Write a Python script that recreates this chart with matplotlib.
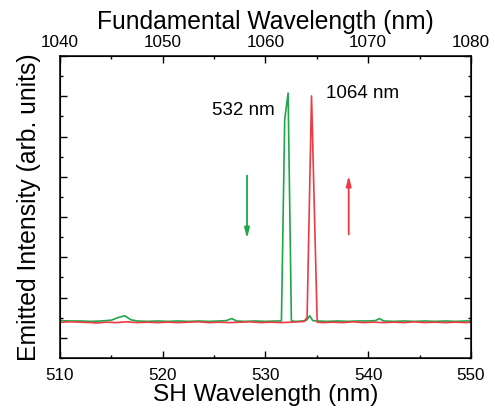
import numpy as np
import matplotlib.pyplot as plt
from matplotlib.ticker import MultipleLocator, NullFormatter

plt.rcParams['font.family'] = ['Liberation Sans', 'DejaVu Sans']

# green spectrum (532 nm, SH signal)
green_x = [510, 511, 512, 513, 514, 515, 515.6, 516.3, 516.9, 517.5, 518.5, 519.5,
           520.5, 521.5, 522.5, 523.5, 524.5, 525.5, 526.2, 526.7, 527.2, 528, 529,
           530, 531, 531.55, 531.87, 532.2, 532.52, 533, 533.6, 534.0, 534.3, 534.6,
           535, 536, 537, 538, 539, 540, 540.7, 541.1, 541.5, 542.5, 543.5, 544.5,
           545.5, 546.5, 547.5, 548.5, 549.5, 550]
green_y = [0.43, 0.42, 0.42, 0.41, 0.42, 0.44, 0.50, 0.55, 0.45, 0.42, 0.41, 0.42,
           0.41, 0.42, 0.41, 0.42, 0.41, 0.42, 0.43, 0.48, 0.42, 0.41, 0.42,
           0.41, 0.42, 0.42, 5.42, 6.08, 0.42, 0.41, 0.42, 0.44, 0.55, 0.43,
           0.42, 0.41, 0.42, 0.41, 0.42, 0.42, 0.43, 0.48, 0.42, 0.41, 0.42, 0.41,
           0.42, 0.41, 0.42, 0.41, 0.42, 0.42]

# red spectrum (1064 nm, fundamental)
red_x = [510, 511, 512, 513, 513.6, 514.5, 515.5, 516.5, 517.5, 518.5, 519.5, 520.5,
         521.5, 522.5, 523.5, 524.5, 525.5, 526.5, 527.5, 528.5, 529.5, 530.5, 531.5,
         532.5, 533.3, 533.8, 534.05, 534.48, 535.03, 535.6, 536.5, 537.5, 538.5,
         539.5, 540.5, 541.5, 542.5, 543.5, 544.5, 545.5, 546.5, 547.5, 548.5,
         549.5, 550]
red_y = [0.39, 0.40, 0.39, 0.38, 0.37, 0.39, 0.38, 0.40, 0.38, 0.39, 0.38, 0.39,
         0.38, 0.39, 0.40, 0.38, 0.39, 0.38, 0.39, 0.40, 0.38, 0.39, 0.38,
         0.39, 0.40, 0.41, 0.52, 6.01, 0.39, 0.38, 0.39, 0.38, 0.40,
         0.38, 0.39, 0.38, 0.39, 0.38, 0.40, 0.38, 0.39, 0.38, 0.39,
         0.38, 0.39]

green = '#1fa64a'
red = '#ec3b44'

fig = plt.figure(figsize=(4.95, 4.12), dpi=100)
ax = fig.add_axes([0.1212, 0.131, 0.8303, 0.733])

ax.plot(green_x, green_y, color=green, lw=1.2)
ax.plot(red_x, red_y, color=red, lw=1.2)

ax.set_xlim(510, 550)
ax.set_ylim(-0.5, 7.0)
ax.xaxis.set_major_locator(MultipleLocator(10))
ax.xaxis.set_minor_locator(MultipleLocator(5))
ax.yaxis.set_major_locator(MultipleLocator(1))
ax.yaxis.set_minor_locator(MultipleLocator(0.5))
ax.yaxis.set_major_formatter(NullFormatter())
ax.tick_params(which='both', direction='in', right=True, width=1, labelsize=12.3)
ax.tick_params(which='major', length=5)
ax.tick_params(which='minor', length=2.5)
ax.tick_params(axis='x', pad=7)
for s in ax.spines.values():
    s.set_linewidth(1.1)

ax.set_xlabel('SH Wavelength (nm)', fontsize=17.6, labelpad=1)
ax.set_ylabel('Emitted Intensity (arb. units)', fontsize=17.8, labelpad=10)

# top axis: fundamental wavelength
ax2 = ax.twiny()
ax2.set_xlim(1040, 1080)
ax2.xaxis.set_major_locator(MultipleLocator(10))
ax2.xaxis.set_minor_locator(MultipleLocator(5))
ax2.tick_params(which='both', direction='in', width=1, labelsize=12.3, pad=4.5)
ax2.tick_params(which='major', length=5)
ax2.tick_params(which='minor', length=2.5)
ax2.set_xlabel('Fundamental Wavelength (nm)', fontsize=17.7, labelpad=4)

# labels and arrows
ax.text(530.9, 5.65, '532 nm', fontsize=13.5, ha='right', va='center')
ax.text(535.9, 6.08, '1064 nm', fontsize=13.5, ha='left', va='center')
ax.annotate('', xy=(528.2, 2.4), xytext=(528.2, 4.1),
            arrowprops=dict(arrowstyle='-|>,head_length=0.6,head_width=0.15', color=green, lw=1.3))
ax.annotate('', xy=(538.1, 4.1), xytext=(538.1, 2.5),
            arrowprops=dict(arrowstyle='-|>,head_length=0.6,head_width=0.15', color=red, lw=1.3))

plt.savefig('out.png')
